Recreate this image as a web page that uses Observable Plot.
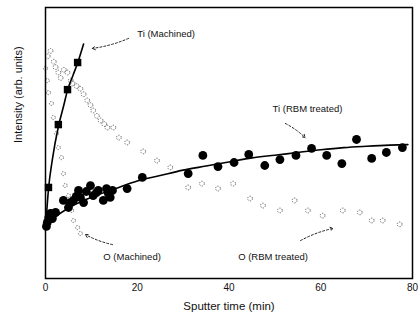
<!DOCTYPE html>
<html>
<head>
<meta charset="utf-8">
<script src="https://cdn.jsdelivr.net/npm/d3@7"></script>
<script src="https://cdn.jsdelivr.net/npm/@observablehq/plot@0.6"></script>
<style>
  html, body { margin: 0; padding: 0; background: #fff; }
  svg { display: block; }
</style>
</head>
<body>
<div id="chart"></div>
<script>
// Sputter time (min) vs intensity (arb. units, 0-100)
const xTicks = [0, 20, 40, 60, 80];

// Ti (Machined): squares + fitted line
const tiMachPoints = [[0.65, 33.6], [2.8, 56.8], [4.8, 69.7], [7.0, 79.7]];
const tiMachLine = [[0, 18], [0.65, 33], [1.5, 44], [2.8, 56], [4, 64], [4.8, 69.5], [6, 75], [7, 79.5], [8.3, 86.5]];

// Ti (RBM treated): filled circles + fitted line
const tiRbmPoints = [
  [0.2, 19.2], [0.4, 20.7], [0.7, 22.5], [1.1, 24.0], [1.5, 22.1], [2.2, 24.4],
  [3.9, 28.8], [5.0, 26.2], [5.4, 28.0], [6.1, 28.8], [6.7, 30.3], [7.2, 32.5],
  [7.6, 29.9], [8.3, 28.0], [8.9, 32.1], [9.8, 34.3], [10.4, 30.6], [11.1, 31.7],
  [11.5, 32.5], [12.6, 28.8], [13.3, 33.2], [13.7, 31.4], [14.1, 29.9], [14.6, 32.5],
  [17.8, 33.2], [21.1, 37.3], [31.1, 38.7], [34.3, 45.4], [37.6, 41.3], [41.1, 42.8],
  [44.3, 45.8], [47.8, 41.7], [51.1, 43.9], [54.6, 45.4], [58.0, 48.0], [61.3, 45.4],
  [64.6, 42.4], [67.8, 51.3], [71.1, 44.3], [74.3, 46.5], [77.8, 48.3]
];
const tiRbmLine = [
  [0, 19.5], [2, 22.5], [5, 26], [10, 30], [15, 33], [20, 36], [25, 38], [30, 40],
  [35, 41.5], [40, 43], [45, 44.5], [50, 45.5], [55, 46.5], [60, 47.5], [65, 48.3],
  [70, 48.8], [75, 49.2], [79, 49.4]
];

// O (Machined): open circles
const oMachPoints = [
  [0, 77.5], [0.4, 73], [0.65, 68.6], [1.3, 64.6], [1.7, 59.4], [2.4, 53.5], [2.8, 48.3],
  [3.5, 44.6], [3.9, 38.7], [4.3, 34.3], [5.0, 30.6], [5.7, 25.1], [6.1, 21.4],
  [7.0, 18.8], [7.6, 16.6]
];

// O (RBM treated): open circles
const oRbmPoints = [
  [0.5, 82], [1.1, 84], [1.8, 80], [2.2, 78], [2.8, 76], [3.3, 74], [4.0, 77], [4.8, 76],
  [5.5, 73], [5.9, 72], [6.8, 71], [7.6, 70], [8.3, 68], [9.1, 65.7], [9.8, 64], [10.4, 62],
  [11.2, 60], [12, 58.3], [12.8, 57], [13.5, 55.7], [14.8, 55.7], [16, 52], [17.8, 50.2],
  [21.3, 46.9], [24.3, 43.5], [27.2, 41], [31.1, 33.6], [34.1, 35], [37.6, 33.2],
  [40.9, 35], [44.6, 29.5], [47.4, 26.9], [51.1, 25.1], [54.3, 28.8], [57.2, 25.1],
  [60.4, 23.2], [64.8, 25.1], [68.5, 24.4], [71.1, 21.4], [73.5, 21.4], [77.2, 20]
];

// Series labels and their dashed pointer arrows (data coordinates)
const labels = [
  {text: "Ti (Machined)", t: 20.0, y: 90.4},
  {text: "Ti (RBM treated)", t: 49.5, y: 62.7},
  {text: "O (Machined)", t: 12.6, y: 8.1},
  {text: "O (RBM treated)", t: 42.0, y: 8.1}
];
const pointers = [
  {t1: 18.1, y1: 88.6, t2: 10.2, y2: 84.9},
  {t1: 52.3, y1: 57.2, t2: 56.6, y2: 52.0},
  {t1: 14.6, y1: 12.5, t2: 8.7, y2: 16.2},
  {t1: 55.6, y1: 14.0, t2: 62.7, y2: 18.5}
];

const font = "Liberation Sans, Arial, sans-serif";

const chart = Plot.plot({
  width: 420,
  height: 324,
  marginLeft: 45,
  marginRight: 8,
  marginTop: 7,
  marginBottom: 46,
  style: {fontFamily: font, fontSize: "10px", color: "#111", background: "#fff"},
  x: {domain: [0, 80]},
  y: {domain: [0, 100]},
  marks: [
    Plot.axisX({ticks: xTicks, tickSize: 0, tickPadding: 5, label: null, fontSize: 10}),
    Plot.axisY({ticks: [], label: null}),
    // O series: open circles
    Plot.dot(oRbmPoints, {x: d => d[0], y: d => d[1], r: 2.4, stroke: "#444", strokeWidth: 0.8, strokeDasharray: "1.2,1.2", fill: "none"}),
    Plot.dot(oMachPoints, {x: d => d[0], y: d => d[1], r: 2, stroke: "#444", strokeWidth: 0.8, strokeDasharray: "1.2,1.2", fill: "none"}),
    // Ti RBM
    Plot.line(tiRbmLine, {x: d => d[0], y: d => d[1], stroke: "#000", strokeWidth: 1.6, curve: "monotone-x"}),
    Plot.dot(tiRbmPoints, {x: d => d[0], y: d => d[1], r: 4.4, fill: "#000"}),
    // Ti machined
    Plot.line(tiMachLine, {x: d => d[0], y: d => d[1], stroke: "#000", strokeWidth: 1.6, curve: "monotone-x"}),
    Plot.dot(tiMachPoints, {x: d => d[0], y: d => d[1], r: 4.2, symbol: "square", fill: "#000"}),
    // pointers and labels
    Plot.arrow(pointers, {x1: "t1", y1: "y1", x2: "t2", y2: "y2", stroke: "#222", strokeWidth: 1, strokeDasharray: "2,2", headLength: 5, bend: 8}),
    Plot.text(labels, {x: "t", y: "y", text: "text", textAnchor: "start", fontSize: 9.5, fill: "#111"}),
    // axis titles
    Plot.text(["Sputter time (min)"], {frameAnchor: "bottom", dy: 31, fontSize: 11.5, fill: "#111"}),
    Plot.text(["Intensity (arb. units)"], {frameAnchor: "left", dx: -27, rotate: -90, fontSize: 11, fill: "#111"}),
    Plot.frame({stroke: "#000", strokeWidth: 1.5})
  ]
});
document.getElementById("chart").appendChild(chart);
</script>
</body>
</html>
